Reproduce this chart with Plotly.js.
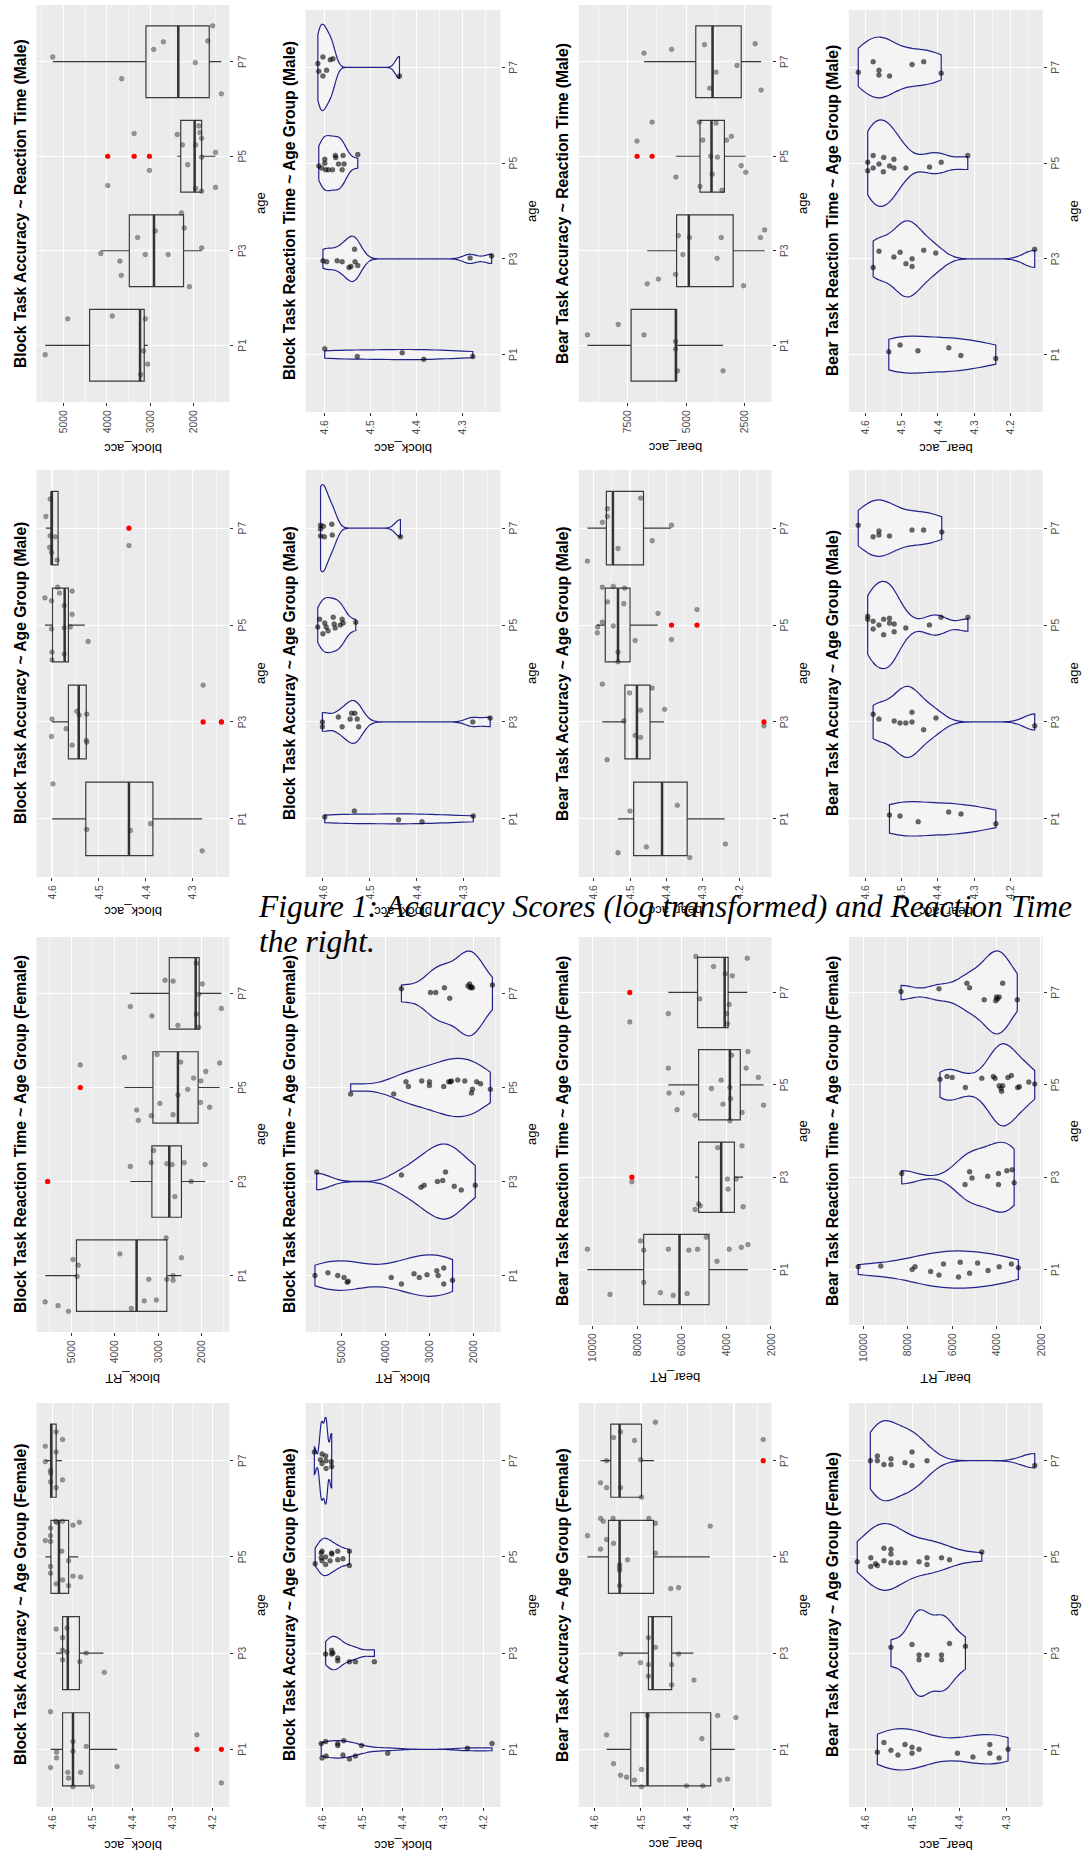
<!DOCTYPE html>
<html>
<head>
<meta charset="utf-8">
<script src="https://cdn.plot.ly/plotly-3.0.1.min.js"></script>
<style>
html,body{margin:0;padding:0;width:1082px;height:1857px;overflow:hidden;background:#ffffff;}
#wrap{position:absolute;left:0;top:0;width:1857px;height:1082px;transform-origin:0 0;transform:translate(0px,1857px) rotate(-90deg);}
#caption{position:absolute;left:259px;top:889px;font-family:'Liberation Serif','Times New Roman',serif;font-style:italic;font-size:31.6px;line-height:35px;white-space:nowrap;color:#000;}
</style>
</head>
<body>
<div id="wrap"><div id="chart"></div></div>
<div id="caption">Figure 1: Accuracy Scores (log transformed) and Reaction Time<br>the right.</div>
<script>
// ---------------- DATA ----------------
const ages = ['P1','P3','P5','P7'];

// Male block RT (boxplot, titled "Block Task Accuracy ~ Reaction Time (Male)")
const mBlockRT_vals = [[5425,4904,3877,3115,3156,3060,3220],
  [4142,3701,3669,3292,3115,2883,2586,2217,2281,2097,1816],
  [3982,3372,3019,2378,2258,2137,1953,1953,1880,1857,1816,1816,1816,1496,1496],
  [5250,3661,2923,2698,1961,1672,1560,1360]];
const mBlockRT_jit = [[-0.10,0.28,0.31,0.28,-0.06,-0.20,-0.31],
  [-0.03,-0.11,-0.26,0.14,-0.04,0.21,-0.04,0.24,0.40,-0.38,0.03],
  [-0.31,0.24,-0.15,0.23,0.12,-0.09,0.12,-0.34,0.32,0.25,0.19,-0.01,-0.37,0.04,-0.33],
  [0.05,-0.18,0.13,0.21,-0.01,0.22,0.38,-0.34]];
const mBlockRT_q1 = [3140,2233,1816,1640];
const mBlockRT_med = [3236,2915,1977,2354];
const mBlockRT_q3 = [4400,3484,2298,3100];
const mBlockRT_lo = [3060,1816,1496,1360];
const mBlockRT_hi = [5425,4142,2378,5250];
const mBlockRT_out = [[],[],[3982,3372,3019],[]];

// Male block accuracy violin (titled "Block Task Reaction Time ~ Age Group (Male)")
const mBlockAccV1_vals = [[4.600,4.529,4.431,4.384,4.277],
  [4.604,4.596,4.573,4.562,4.547,4.543,4.535,4.534,4.528,4.283,4.236],
  [4.613,4.607,4.600,4.598,4.592,4.583,4.577,4.576,4.570,4.562,4.560,4.558,4.528,4.600],
  [4.615,4.613,4.604,4.604,4.596,4.588,4.582,4.437]];
const mBlockAccV1_jit = [[0.06,-0.02,0.02,-0.05,-0.02],
  [-0.02,-0.03,-0.02,-0.03,-0.09,-0.08,0.10,-0.03,-0.07,0.01,0.03],
  [-0.03,-0.05,0.04,-0.07,-0.07,-0.07,0.08,0.06,-0.01,-0.07,0.08,-0.01,0.09,0.00],
  [0.04,-0.04,0.11,-0.09,-0.03,0.08,0.09,-0.09]];

// Male bear RT (boxplot, titled "Bear Task Accuracy ~ Reaction Time (Male)")
const mBearRT_vals = [[9216,7903,6799,5455,5455,5366,3425],
  [6664,6187,5455,5336,5142,4858,3679,3500,2545,1828,1649],
  [7097,6455,5440,4440,4291,3948,3888,3724,3664,3276,3067,3470,4410,2649,2455],
  [6799,5620,4216,3993,3724,2828,2052,1799]];
const mBearRT_jit = [[0.11,0.22,0.11,0.04,-0.04,-0.27,-0.27],
  [-0.35,-0.30,-0.25,0.16,-0.04,0.14,-0.08,0.14,-0.37,0.14,0.22],
  [0.16,0.36,-0.22,0.36,0.17,0.00,-0.19,0.35,-0.01,0.17,0.21,-0.36,-0.32,-0.10,-0.17],
  [0.09,0.13,0.18,-0.28,-0.11,-0.04,0.19,-0.30]];
const mBearRT_q1 = [5410,2993,3366,2649];
const mBearRT_med = [5440,4888,3918,3873];
const mBearRT_q3 = [7351,5410,4410,4590];
const mBearRT_lo = [3425,1649,2455,1799];
const mBearRT_hi = [9216,6664,5440,6799];
const mBearRT_out = [[],[],[7097,6455],[]];

// Male bear accuracy violin (titled "Bear Task Reaction Time ~ Age Group (Male)")
const mBearAccV1_vals = [[4.535,4.504,4.455,4.370,4.337,4.241],
  [4.578,4.562,4.521,4.504,4.488,4.471,4.471,4.439,4.406,4.134],
  [4.593,4.593,4.578,4.578,4.562,4.550,4.549,4.533,4.521,4.521,4.488,4.423,4.391,4.318],
  [4.619,4.578,4.562,4.562,4.533,4.471,4.439,4.391]];
const mBearAccV1_jit = [[0.03,0.10,0.04,0.07,-0.01,-0.04],
  [-0.09,0.08,0.02,0.07,-0.05,0.00,-0.08,0.09,0.06,0.10],
  [0.01,-0.08,0.08,-0.05,-0.01,-0.09,0.06,-0.03,0.04,-0.05,-0.05,-0.04,0.01,0.08],
  [-0.05,0.06,-0.03,-0.08,-0.09,0.03,0.06,-0.06]];

// Male block accuracy (boxplot)
const mBlockAcc_vals = [[4.598,4.526,4.433,4.390,4.280],
  [4.600,4.601,4.570,4.557,4.547,4.542,4.526,4.527,4.526,4.278,4.239],
  [4.615,4.601,4.588,4.584,4.574,4.557,4.557,4.601,4.574,4.561,4.600,4.574,4.600,4.523],
  [4.604,4.613,4.604,4.593,4.605,4.601,4.589,4.436]];
const mBlockAcc_jit = [[0.36,-0.11,-0.12,-0.05,-0.33],
  [0.03,-0.15,-0.07,-0.24,0.11,0.07,0.08,-0.19,-0.21,0.38,0.00],
  [0.28,0.25,0.39,0.33,0.20,0.35,0.11,-0.04,-0.03,-0.02,-0.28,-0.30,-0.36,-0.17],
  [0.30,0.12,-0.08,-0.09,-0.20,-0.25,-0.33,-0.18]];
const mBlockAcc_q1 = [4.385,4.527,4.565,4.587];
const mBlockAcc_med = [4.436,4.543,4.573,4.601];
const mBlockAcc_q3 = [4.528,4.565,4.599,4.601];
const mBlockAcc_lo = [4.280,4.526,4.530,4.587];
const mBlockAcc_hi = [4.600,4.600,4.615,4.613];
const mBlockAcc_out = [[],[4.278,4.239],[],[4.436]];

// Male block accuracy violin (titled "Block Task Accuray ~ Age Group (Male)")
const mBlockAccV2_vals = [[4.596,4.533,4.439,4.389,4.280],
  [4.601,4.601,4.567,4.559,4.542,4.539,4.532,4.527,4.524,4.281,4.244],
  [4.611,4.607,4.596,4.600,4.589,4.578,4.576,4.574,4.559,4.557,4.563,4.530,4.593],
  [4.605,4.605,4.599,4.597,4.581,4.580,4.435,4.605]];
const mBlockAccV2_jit = [[0.02,0.08,-0.01,-0.03,0.03],
  [0.00,-0.05,0.05,-0.05,0.03,0.09,0.09,0.03,-0.05,0.00,0.04],
  [-0.02,0.06,0.02,-0.09,-0.06,0.08,0.01,-0.03,0.06,0.02,0.00,0.03,-0.02],
  [0.03,-0.01,0.02,-0.09,0.04,-0.07,-0.09,-0.08]];

// Male bear accuracy (boxplot)
const mBearAcc_vals = [[4.500,4.370,4.533,4.455,4.336,4.238],
  [4.576,4.501,4.439,4.471,4.517,4.405,4.486,4.471,4.563,4.132],
  [4.576,4.546,4.515,4.562,4.517,4.576,4.589,4.590,4.546,4.423,4.316,4.386,4.486,4.533,4.533],
  [4.617,4.576,4.562,4.562,4.533,4.471,4.439,4.386]];
const mBearAcc_jit = [[0.08,0.14,-0.35,-0.29,-0.40,-0.26],
  [0.39,0.30,0.35,0.12,0.01,0.13,-0.14,-0.16,-0.39,-0.04],
  [0.39,0.40,0.38,0.24,0.22,0.03,-0.02,-0.08,-0.01,0.12,0.16,-0.15,-0.16,-0.28,-0.38],
  [-0.34,0.06,0.20,0.12,-0.21,0.31,-0.13,0.03]];
const mBearAcc_q1 = [4.343,4.445,4.500,4.463];
const mBearAcc_med = [4.412,4.481,4.533,4.547];
const mBearAcc_q3 = [4.490,4.514,4.568,4.565];
const mBearAcc_lo = [4.240,4.407,4.424,4.388];
const mBearAcc_hi = [4.533,4.576,4.591,4.617];
const mBearAcc_out = [[],[4.132],[4.386,4.316],[]];

// Male bear accuracy violin (titled "Bear Task Accuray ~ Age Group (Male)")
const mBearAccV2_vals = [[4.533,4.504,4.454,4.370,4.336,4.240],
  [4.578,4.562,4.520,4.504,4.488,4.471,4.471,4.439,4.405,4.133],
  [4.593,4.593,4.578,4.578,4.562,4.549,4.549,4.533,4.533,4.520,4.520,4.488,4.423,4.391,4.317],
  [4.619,4.578,4.562,4.562,4.533,4.471,4.439,4.389]];
const mBearAccV2_jit = [[0.04,0.03,-0.03,0.07,0.05,-0.05],
  [0.08,0.03,0.01,-0.01,-0.01,0.00,0.10,-0.08,0.04,-0.04],
  [0.09,0.06,0.04,-0.04,0.00,0.06,-0.10,0.07,0.02,0.01,-0.07,-0.03,0.00,0.08,0.08],
  [0.03,-0.09,-0.07,-0.03,-0.08,-0.02,-0.02,-0.04]];

// Female block RT (boxplot)
const fBlockRT_vals = [[5600,5304,5064,4960,4840,4864,3880,3616,3320,3216,3040,2816,2800,2656,2656,2464],
  [5544,3640,3104,3160,2800,2680,2400,2240,1920,2616],
  [4792,3776,3024,2480,1904,1584,2184,2016,2320,2544,2960,2024,1816,3496,3456,3160,2656],
  [2120,2840,2656,1984,2064,2120,2064,3640,3144,2544,1544]];
const fBlockRT_jit = [[-0.28,-0.32,-0.38,0.17,0.11,-0.01,0.23,-0.35,-0.27,-0.04,-0.26,0.40,-0.04,0.00,-0.05,0.19],
  [0.00,0.16,0.33,0.20,0.19,0.18,0.20,0.00,0.18,-0.16],
  [0.24,0.32,0.35,0.27,0.17,0.26,0.10,0.07,-0.02,-0.08,-0.17,-0.16,-0.21,-0.24,-0.35,-0.30,-0.29],
  [0.32,0.14,0.13,0.10,-0.01,-0.22,-0.36,-0.14,-0.24,-0.34,-0.16]];
const fBlockRT_q1 = [2800,2464,2080,2056];
const fBlockRT_med = [3496,2744,2544,2136];
const fBlockRT_q3 = [4880,3144,3120,2744];
const fBlockRT_lo = [2464,1920,1584,1544];
const fBlockRT_hi = [5600,3640,3776,3640];
const fBlockRT_out = [[],[5544],[4792],[]];

// Female block RT violin
const fBlockRTV_vals = [[5595,5302,5079,4936,4865,4841,3865,3634,3349,3229,3055,2832,2801,2674,2674,2475],
  [5556,3634,3190,3118,2817,2698,2634,2436,2277,1959],
  [4786,3809,3531,3476,3174,2999,2999,2674,2562,2523,2500,2356,2197,2046,2023,1927,1840,1618],
  [3634,2975,2856,2658,2539,2126,2087,2071,2047,2023,1570]];
const fBlockRTV_jit = [[0.00,0.03,0.00,-0.02,-0.07,-0.06,-0.02,-0.09,0.02,-0.02,0.01,0.05,0.00,0.08,-0.09,-0.05],
  [0.10,0.07,-0.06,-0.04,0.00,0.01,0.10,-0.05,-0.09,-0.04],
  [-0.07,-0.07,0.06,0.01,0.07,0.06,0.02,0.01,0.06,0.06,0.07,0.08,0.07,-0.06,-0.02,0.06,0.04,-0.02],
  [0.05,0.01,0.01,0.06,-0.05,0.08,0.10,0.06,0.07,0.06,0.09]];

// Female bear RT (boxplot)
const fBearRT_vals = [[10234,9220,7848,7708,7708,6601,6960,6383,5760,5682,5292,4902,4419,3873,3328,3031],
  [8238,4388,3296,3951,3561,3920,5245,5167,5401,3250],
  [6601,6570,5978,6211,5401,4668,4232,3842,3811,4154,3764,3296,3842,3109,3031,2564,2330],
  [8332,6601,5198,5370,4575,4045,3733,3873,3998,3951,3062]];
const fBearRT_jit = [[0.22,-0.27,0.31,0.21,-0.14,0.22,-0.25,-0.28,-0.26,0.21,0.22,0.35,0.09,0.22,0.24,0.27],
  [-0.05,0.32,0.34,-0.02,-0.02,-0.13,-0.29,-0.31,-0.35,-0.32],
  [0.18,-0.09,-0.09,-0.27,-0.33,-0.04,0.05,-0.03,-0.15,-0.21,0.32,-0.30,-0.39,0.18,0.36,0.08,-0.22],
  [-0.32,-0.23,-0.07,0.39,0.28,0.20,0.18,-0.13,-0.23,-0.34,0.37]];
const fBearRT_q1 = [4777,3639,3374,3920];
const fBearRT_med = [6102,4232,3842,4076];
const fBearRT_q3 = [7708,5245,5245,5292];
const fBearRT_lo = [3031,3250,2330,3062];
const fBearRT_hi = [10234,5401,6601,6601];
const fBearRT_out = [[],[8238],[],[8332]];

// Female bear RT violin
const fBearRTV_vals = [[10235,9215,7803,7678,6972,6595,6391,5717,5638,5214,4854,4383,3881,3332,3018],
  [8274,5418,5214,5105,4399,3912,3912,3536,3300,3206],
  [6548,6234,5999,5403,4665,4148,4069,3881,3802,3771,3724,3489,3332,3050,2971,2547,2280],
  [8305,6595,5340,5214,4556,4038,4007,3959,3881,3724,3065]];
const fBearRTV_jit = [[0.03,0.04,0.00,0.03,-0.02,-0.06,0.06,-0.08,0.08,-0.04,0.07,-0.01,0.03,0.06,0.02],
  [0.04,-0.08,0.06,-0.01,0.01,0.04,-0.08,0.07,0.08,-0.06],
  [0.06,0.09,0.08,-0.03,0.07,0.09,0.07,-0.01,-0.04,-0.07,-0.01,0.08,0.10,-0.03,-0.02,0.03,0.01],
  [0.01,0.04,0.10,0.05,-0.08,-0.09,-0.05,-0.07,-0.05,0.10,-0.08]];

// Female block accuracy (boxplot)
const fBlockAcc_vals = [[4.604,4.589,4.589,4.604,4.548,4.548,4.515,4.561,4.559,4.529,4.548,4.500,4.438,4.239,4.178],
  [4.590,4.563,4.574,4.574,4.563,4.574,4.515,4.531,4.470],
  [4.617,4.604,4.604,4.604,4.589,4.591,4.574,4.548,4.532,4.576,4.604,4.604,4.590,4.574,4.559,4.559,4.548,4.529],
  [4.617,4.590,4.574,4.590,4.617,4.604,4.604,4.604,4.574,4.590]];
const fBlockAcc_jit = [[0.39,-0.03,-0.09,-0.19,0.08,-0.02,0.03,-0.24,-0.30,-0.24,-0.39,-0.39,-0.18,0.15,-0.35],
  [0.25,0.26,0.16,0.03,0.01,-0.07,0.00,-0.09,-0.20],
  [0.17,0.30,0.22,0.16,0.36,0.37,0.37,0.33,0.36,0.06,-0.10,-0.17,-0.28,-0.24,-0.04,-0.30,-0.20,-0.21],
  [0.15,0.30,0.22,0.09,-0.01,-0.10,-0.13,-0.22,-0.20,-0.28]];
const fBlockAcc_q1 = [4.507,4.532,4.559,4.590];
const fBlockAcc_med = [4.548,4.561,4.583,4.602];
const fBlockAcc_q3 = [4.574,4.574,4.603,4.604];
const fBlockAcc_lo = [4.438,4.472,4.535,4.576];
const fBlockAcc_hi = [4.604,4.590,4.617,4.617];
const fBlockAcc_out = [[4.239,4.178],[],[],[]];

// Female block accuracy violin
const fBlockAccV_vals = [[4.602,4.591,4.600,4.590,4.561,4.561,4.546,4.548,4.532,4.517,4.502,4.437,4.239,4.178],
  [4.591,4.576,4.576,4.561,4.561,4.532,4.517,4.470,4.573],
  [4.617,4.602,4.602,4.600,4.591,4.591,4.576,4.576,4.561,4.561,4.548,4.532,4.532,4.600,4.580],
  [4.619,4.600,4.591,4.604,4.590,4.577,4.576,4.590,4.600]];
const fBlockAccV_jit = [[0.06,0.08,-0.09,-0.07,0.06,0.04,0.09,-0.06,-0.10,-0.07,0.04,-0.04,0.01,0.06],
  [-0.01,0.03,-0.01,-0.05,-0.08,-0.09,-0.09,-0.09,0.00],
  [-0.07,0.04,-0.01,0.06,0.00,-0.08,0.04,0.03,0.06,-0.03,-0.02,0.06,-0.09,-0.04,-0.04],
  [0.09,0.07,0.05,0.01,0.00,-0.01,-0.06,-0.08,-0.03]];

// Female bear accuracy (boxplot)
const fBearAcc_vals = [[4.574,4.369,4.335,4.296,4.486,4.559,4.544,4.531,4.514,4.499,4.499,4.402,4.367,4.331,4.314],
  [4.544,4.501,4.484,4.484,4.484,4.469,4.434,4.434,4.419,4.386],
  [4.615,4.587,4.581,4.560,4.574,4.559,4.587,4.529,4.546,4.546,4.546,4.546,4.483,4.469,4.469,4.436,4.419,4.351],
  [4.469,4.544,4.559,4.514,4.574,4.501,4.587,4.574,4.544,4.499,4.237]];
const fBearAcc_jit = [[0.15,0.11,0.35,0.33,0.35,-0.15,-0.27,-0.29,-0.32,-0.21,-0.39,-0.38,-0.38,-0.32,-0.31],
  [-0.01,-0.10,0.16,-0.12,-0.24,0.06,-0.12,-0.33,-0.01,-0.28],
  [0.22,0.40,0.37,0.40,0.18,0.14,0.08,-0.03,-0.08,-0.11,-0.14,-0.30,0.40,0.35,0.04,-0.33,-0.32,0.32],
  [0.40,0.30,0.24,0.21,0.00,0.01,-0.23,-0.28,-0.28,-0.38,0.22]];
const fBearAcc_q1 = [4.350,4.434,4.473,4.499];
const fBearAcc_med = [4.486,4.475,4.546,4.546];
const fBearAcc_q3 = [4.522,4.484,4.570,4.565];
const fBearAcc_lo = [4.298,4.387,4.352,4.472];
const fBearAcc_hi = [4.574,4.544,4.615,4.587];
const fBearAcc_out = [[],[],[],[4.237]];

// Female bear accuracy violin
const fBearAccV_vals = [[4.575,4.561,4.546,4.531,4.516,4.501,4.501,4.486,4.404,4.371,4.335,4.335,4.315,4.296],
  [4.546,4.501,4.486,4.486,4.469,4.438,4.438,4.421,4.387],
  [4.618,4.589,4.589,4.579,4.575,4.561,4.561,4.546,4.546,4.546,4.531,4.516,4.486,4.469,4.469,4.438,4.421,4.352],
  [4.590,4.575,4.575,4.561,4.546,4.546,4.516,4.501,4.501,4.469,4.239]];
const fBearAccV_jit = [[-0.03,0.07,-0.01,-0.06,0.05,0.02,-0.04,0.00,-0.04,-0.08,0.05,-0.04,-0.09,0.00],
  [0.06,0.09,-0.02,-0.07,-0.02,-0.02,-0.07,0.10,0.07],
  [-0.05,-0.01,-0.10,-0.07,-0.09,0.09,-0.04,0.08,0.03,-0.06,-0.06,-0.06,-0.05,-0.01,-0.08,-0.01,-0.03,0.05],
  [0.00,0.05,0.00,-0.04,0.02,-0.04,-0.02,0.09,-0.05,0.00,-0.05]];

// ---------------- PANEL SETUP ----------------
const W = 1857, H = 1082;
const FONT = 'Liberation Sans, Arial, sans-serif';
const colX = [[36.5,229.4],[305.5,500.5],[578.7,771.6],[848.8,1042.7]];
const rowTitleY = [448, 911, 1378, 1845];

function box(vals, jit, q1, med, q3, lo, hi, out){ return {kind:'box', vals, jit, q1, med, q3, lo, hi, out}; }
function vio(vals, jit){ return {kind:'violin', vals, jit}; }

const panels = [
  {r:0,c:0,y:[5,402],  range:[1175,5625], dtick:1000, fmt:'d', title:'Block Task Accuracy ~ Reaction Time (Male)', ylab:'block_acc',
   d: box(mBlockRT_vals,mBlockRT_jit,mBlockRT_q1,mBlockRT_med,mBlockRT_q3,mBlockRT_lo,mBlockRT_hi,mBlockRT_out)},
  {r:0,c:1,y:[10,412], range:[4.2166,4.642], dtick:0.1, fmt:'.1f', title:'Block Task Reaction Time ~ Age Group (Male)', ylab:'block_acc',
   d: vio(mBlockAccV1_vals,mBlockAccV1_jit)},
  {r:0,c:2,y:[5,402],  range:[1351,9590], dtick:2500, fmt:'d', title:'Bear Task Accuracy ~ Reaction Time (Male)', ylab:'bear_acc',
   d: box(mBearRT_vals,mBearRT_jit,mBearRT_q1,mBearRT_med,mBearRT_q3,mBearRT_lo,mBearRT_hi,mBearRT_out)},
  {r:0,c:3,y:[10,412], range:[4.112,4.645], dtick:0.1, fmt:'.1f', title:'Bear Task Reaction Time ~ Age Group (Male)', ylab:'bear_acc',
   d: vio(mBearAccV1_vals,mBearAccV1_jit)},
  {r:1,c:0,y:[470,877], range:[4.222,4.633], dtick:0.1, fmt:'.1f', title:'Block Task Accuracy ~ Age Group (Male)', ylab:'block_acc',
   d: box(mBlockAcc_vals,mBlockAcc_jit,mBlockAcc_q1,mBlockAcc_med,mBlockAcc_q3,mBlockAcc_lo,mBlockAcc_hi,mBlockAcc_out)},
  {r:1,c:1,y:[470,877], range:[4.222,4.637], dtick:0.1, fmt:'.1f', title:'Block Task Accuray ~ Age Group (Male)', ylab:'block_acc',
   d: vio(mBlockAccV2_vals,mBlockAccV2_jit)},
  {r:1,c:2,y:[470,877], range:[4.111,4.641], dtick:0.1, fmt:'.1f', title:'Bear Task Accuracy ~ Age Group (Male)', ylab:'bear_acc',
   d: box(mBearAcc_vals,mBearAcc_jit,mBearAcc_q1,mBearAcc_med,mBearAcc_q3,mBearAcc_lo,mBearAcc_hi,mBearAcc_out)},
  {r:1,c:3,y:[470,877], range:[4.111,4.645], dtick:0.1, fmt:'.1f', title:'Bear Task Accuray ~ Age Group (Male)', ylab:'bear_acc',
   d: vio(mBearAccV2_vals,mBearAccV2_jit)},
  {r:2,c:0,y:[937,1332], range:[1360,5800], dtick:1000, fmt:'d', title:'Block Task Reaction Time ~ Age Group (Female)', ylab:'block_RT',
   d: box(fBlockRT_vals,fBlockRT_jit,fBlockRT_q1,fBlockRT_med,fBlockRT_q3,fBlockRT_lo,fBlockRT_hi,fBlockRT_out)},
  {r:2,c:1,y:[937,1332], range:[1387,5810], dtick:1000, fmt:'d', title:'Block Task Reaction Time ~ Age Group (Female)', ylab:'block_RT',
   d: vio(fBlockRTV_vals,fBlockRTV_jit)},
  {r:2,c:2,y:[937,1325], range:[1970,10624], dtick:2000, fmt:'d', title:'Bear Task Reaction Time ~ Age Group (Female)', ylab:'bear_RT',
   d: box(fBearRT_vals,fBearRT_jit,fBearRT_q1,fBearRT_med,fBearRT_q3,fBearRT_lo,fBearRT_hi,fBearRT_out)},
  {r:2,c:3,y:[937,1325], range:[1920,10659], dtick:2000, fmt:'d', title:'Bear Task Reaction Time ~ Age Group (Female)', ylab:'bear_RT',
   d: vio(fBearRTV_vals,fBearRTV_jit)},
  {r:3,c:0,y:[1403,1807], range:[4.158,4.639], dtick:0.1, fmt:'.1f', title:'Block Task Accuracy ~ Age Group (Female)', ylab:'block_acc',
   d: box(fBlockAcc_vals,fBlockAcc_jit,fBlockAcc_q1,fBlockAcc_med,fBlockAcc_q3,fBlockAcc_lo,fBlockAcc_hi,fBlockAcc_out)},
  {r:3,c:1,y:[1403,1807], range:[4.157,4.641], dtick:0.1, fmt:'.1f', title:'Block Task Accuray ~ Age Group (Female)', ylab:'block_acc',
   d: vio(fBlockAccV_vals,fBlockAccV_jit)},
  {r:3,c:2,y:[1403,1807], range:[4.219,4.634], dtick:0.1, fmt:'.1f', title:'Bear Task Accuracy ~ Age Group (Female)', ylab:'bear_acc',
   d: box(fBearAcc_vals,fBearAcc_jit,fBearAcc_q1,fBearAcc_med,fBearAcc_q3,fBearAcc_lo,fBearAcc_hi,fBearAcc_out)},
  {r:3,c:3,y:[1403,1807], range:[4.222,4.636], dtick:0.1, fmt:'.1f', title:'Bear Task Accuray ~ Age Group (Female)', ylab:'bear_acc',
   d: vio(fBearAccV_vals,fBearAccV_jit)}
];

function q7(s, p){ const h=(s.length-1)*p; const i=Math.floor(h); const j=Math.min(i+1,s.length-1); return s[i]+(h-i)*(s[j]-s[i]); }
function nrd0(x){
  const n=x.length; const m=x.reduce((a,b)=>a+b,0)/n;
  const sd=Math.sqrt(x.reduce((a,b)=>a+(b-m)*(b-m),0)/(n-1));
  const s=[...x].sort((a,b)=>a-b);
  let lo=Math.min(sd,(q7(s,0.75)-q7(s,0.25))/1.34);
  if(!(lo>0)) lo = sd || Math.abs(s[0]) || 1;
  return 0.9*lo*Math.pow(n,-0.2);
}

const traces = [], layout = {
  width: W, height: H, margin:{l:0,r:0,t:0,b:0},
  paper_bgcolor:'#FFFFFF', plot_bgcolor:'#EBEBEB',
  showlegend:false, violinmode:'overlay', violingap:0.1, violingroupgap:0, boxmode:'overlay',
  annotations: [], font:{family:FONT}
};

panels.forEach((p, idx) => {
  const k = idx + 1;
  const xa = 'x' + (k===1?'':k), ya = 'y' + (k===1?'':k);
  const xk = 'xaxis' + (k===1?'':k), yk = 'yaxis' + (k===1?'':k);
  const gx = colX[p.c];             // page x range -> unrotated vertical
  const u0 = W - p.y[1], u1 = W - p.y[0];
  const xd = [u0/W, u1/W];
  const yd = [(H - gx[1])/H, (H - gx[0])/H];
  layout[xk] = {domain:xd, anchor:ya, type:'linear', range:[0.4,4.6], tickvals:[1,2,3,4], ticktext:ages,
    showgrid:true, gridcolor:'#FFFFFF', gridwidth:1.1, zeroline:false, showline:false,
    ticks:'outside', ticklen:3, tickwidth:1, tickcolor:'#333333', ticklabelstandoff:4.5,
    tickfont:{family:FONT, size:10.4, color:'#4D4D4D'}, fixedrange:true};
  layout[yk] = {domain:yd, anchor:xa, type:'linear', range:p.range, dtick:p.dtick, tick0:0, tickformat:p.fmt,
    showgrid:true, gridcolor:'#FFFFFF', gridwidth:1.1, zeroline:false, showline:false,
    minor:{dtick:p.dtick/2, tick0:0, showgrid:true, gridcolor:'#FFFFFF', gridwidth:0.55, ticks:''},
    ticks:'outside', ticklen:3, tickwidth:1, tickcolor:'#333333', ticklabelstandoff:2,
    tickfont:{family:FONT, size:10.4, color:'#4D4D4D'}, fixedrange:true};

  const d = p.d;
  if(d.kind === 'box'){
    traces.push({type:'box', xaxis:xa, yaxis:ya, x:[1,2,3,4], q1:d.q1, median:d.med, q3:d.q3,
      lowerfence:d.lo, upperfence:d.hi, width:0.76, whiskerwidth:0, boxpoints:false,
      fillcolor:'rgba(0,0,0,0)', line:{color:'#3a3a3a', width:1.2}, hoverinfo:'skip'});
    const mx=[], my=[];
    d.med.forEach((m,i)=>{ mx.push(i+1-0.38, i+1+0.38, null); my.push(m, m, null); });
    traces.push({type:'scatter', mode:'lines', xaxis:xa, yaxis:ya, x:mx, y:my,
      line:{color:'#333333', width:2.5}, hoverinfo:'skip'});
    const px=[], py=[];
    d.vals.forEach((g,gi)=>g.forEach((v,i)=>{ px.push(gi+1+d.jit[gi][i]); py.push(v); }));
    traces.push({type:'scatter', mode:'markers', xaxis:xa, yaxis:ya, x:px, y:py,
      marker:{size:4.8, color:'rgba(40,40,40,0.45)', line:{color:'rgba(30,30,30,0.35)', width:0.6}}, hoverinfo:'skip'});
    const ox=[], oy=[];
    d.out.forEach((g,gi)=>g.forEach(v=>{ ox.push(gi+1); oy.push(v); }));
    traces.push({type:'scatter', mode:'markers', xaxis:xa, yaxis:ya, x:ox, y:oy,
      marker:{size:5.2, color:'#FF0000'}, hoverinfo:'skip'});
  } else {
    d.vals.forEach((g,gi)=>{
      traces.push({type:'violin', xaxis:xa, yaxis:ya, x:g.map(()=>gi+1), y:g,
        bandwidth:nrd0(g), spanmode:'hard', scalegroup:'sg'+k, scalemode:'width',
        points:false, box:{visible:false}, meanline:{visible:false},
        fillcolor:'#F4F4F4', line:{color:'#22228C', width:1.2}, hoverinfo:'skip', name:'v'+k+'_'+gi});
    });
    const px=[], py=[];
    d.vals.forEach((g,gi)=>g.forEach((v,i)=>{ px.push(gi+1+d.jit[gi][i]); py.push(v); }));
    traces.push({type:'scatter', mode:'markers', xaxis:xa, yaxis:ya, x:px, y:py,
      marker:{size:5, color:'rgba(0,0,0,0.58)', line:{color:'rgba(0,0,0,0.4)', width:0.5}}, hoverinfo:'skip'});
  }

  // panel title (centered over panel)
  layout.annotations.push({xref:'paper', yref:'paper', x:(xd[0]+xd[1])/2, y:(H-(gx[0]-16))/H,
    xanchor:'center', yanchor:'middle', showarrow:false, text:'<b>'+p.title+'</b>',
    font:{family:FONT, size:15.6, color:'#000000'}});
  // x axis title
  layout.annotations.push({xref:'paper', yref:'paper', x:(xd[0]+xd[1])/2, y:(H-(gx[1]+31))/H,
    xanchor:'center', yanchor:'middle', showarrow:false, text:'age',
    font:{family:FONT, size:13, color:'#000000'}});
  // y axis title
  layout.annotations.push({xref:'paper', yref:'paper', x:(W-rowTitleY[p.r])/W, y:(yd[0]+yd[1])/2,
    xanchor:'center', yanchor:'middle', showarrow:false, textangle:-90, text:p.ylab,
    font:{family:FONT, size:13, color:'#000000'}});
});

Plotly.newPlot('chart', traces, layout, {staticPlot:true, responsive:false, displayModeBar:false});
</script>
</body>
</html>
